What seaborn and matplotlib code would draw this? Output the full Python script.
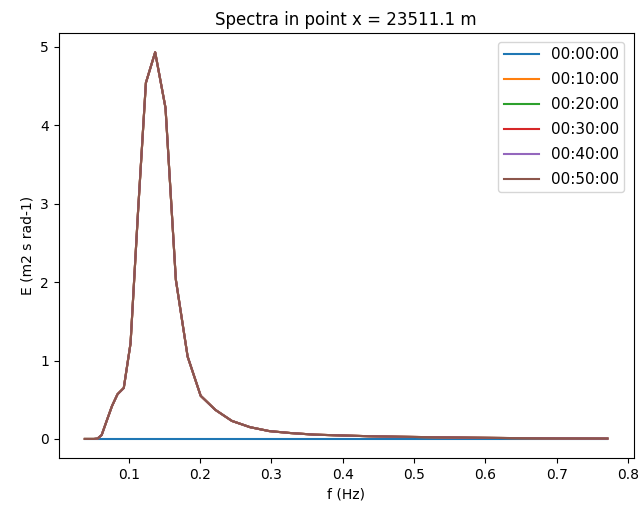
import matplotlib
matplotlib.use("Agg")
import matplotlib.pyplot as plt
import seaborn as sns
import pandas as pd

freqs = [0.0384, 0.0423, 0.0465, 0.0511, 0.0562, 0.0620, 0.0690, 0.0765,
         0.0842, 0.0930, 0.1025, 0.1130, 0.1240, 0.1370, 0.1515, 0.1660,
         0.1825, 0.2008, 0.2215, 0.2445, 0.2700, 0.2970, 0.3270, 0.3600,
         0.3960, 0.4360, 0.4790, 0.5270, 0.5800, 0.6380, 0.7010, 0.7710]

times = ["00:00:00", "00:10:00", "00:20:00", "00:30:00", "00:40:00", "00:50:00"]

spec_initial = [0.0] * len(freqs)
spec_developed = [0.0, 0.0, 0.0, 0.0, 0.005, 0.05, 0.23, 0.42,
                  0.57, 0.65, 1.22, 2.90, 4.54, 4.93, 4.22, 2.03,
                  1.05, 0.55, 0.37, 0.23, 0.15, 0.10, 0.075, 0.055,
                  0.045, 0.035, 0.028, 0.022, 0.016, 0.011, 0.007, 0.005]

series = {
    "00:00:00": spec_initial,
    "00:10:00": spec_developed,
    "00:20:00": spec_developed,
    "00:30:00": spec_developed,
    "00:40:00": spec_developed,
    "00:50:00": spec_developed,
}

rows = []
for t in times:
    for f, e in zip(freqs, series[t]):
        rows.append({"f": f, "E": e, "time": t})
df = pd.DataFrame(rows)

fig = plt.figure(figsize=(6.43, 5.14), dpi=100)
ax = fig.add_axes([0.0913, 0.1084, 0.894, 0.8276])

palette = sns.color_palette("tab10", len(times))
sns.lineplot(data=df, x="f", y="E", hue="time", hue_order=times,
             palette=palette, ax=ax, linewidth=1.5, estimator=None, sort=False)

ax.set_title("Spectra in point x = 23511.1 m")
ax.set_xlabel("f (Hz)")
ax.set_ylabel("E (m2 s rad-1)")
ax.legend(loc="upper right", fontsize=11, labelspacing=0.65, handlelength=2.3,
          borderaxespad=0.6, borderpad=0.35)
ax.set_xticks([0.1, 0.2, 0.3, 0.4, 0.5, 0.6, 0.7, 0.8])

fig.savefig("out.png", dpi=100)
